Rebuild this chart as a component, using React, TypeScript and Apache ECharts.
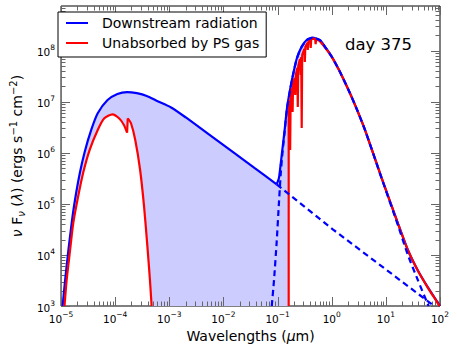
import React, { useEffect, useRef } from 'react';
import * as echarts from 'echarts';

const FONT = 'DejaVu Sans';

// wavelength (µm), νFν (ergs s^-1 cm^-2)
const downstreamUV: [number, number][] = [
  [1.07e-5, 1.0e3], [1.19e-5, 3.23e3], [1.37e-5, 1.25e4], [1.57e-5, 4.17e4], [1.81e-5, 1.19e5],
  [2.22e-5, 3.97e5], [2.74e-5, 1.05e6], [3.61e-5, 2.8e6], [4.76e-5, 5.94e6], [7.23e-5, 1.08e7],
  [1.1e-4, 1.42e7], [1.66e-4, 1.55e7], [2.52e-4, 1.47e7], [3.83e-4, 1.3e7], [5.8e-4, 1.05e7],
  [1.08e-3, 7.73e6], [2.02e-3, 4.92e6], [4.66e-3, 2.56e6], [1.62e-2, 9.7e5], [3.73e-2, 5.05e5],
  [0.0962, 2.42e5],
];
const downstreamOpt: [number, number][] = [
  [0.0962, 2.42e5], [0.1057, 3.17e5], [0.1135, 5.77e5], [0.1213, 1.05e6], [0.134, 2.59e6],
  [0.149, 7.45e6], [0.172, 1.84e7], [0.198, 3.88e7], [0.227, 7.1e7], [0.279, 1.2e8],
  [0.344, 1.62e8], [0.441, 1.8e8], [0.6, 1.62e8], [0.78, 1.13e8], [1.045, 7.1e7],
  [1.455, 3.66e7], [2.1, 1.6e7], [2.96, 6.86e6], [4.18, 2.7e6], [8.37, 3.2e5],
  [16.8, 4.1e4], [25.5, 1.25e4], [38.6, 5.07e3], [58.6, 2.39e3], [88.9, 1.21e3], [100, 1.0e3],
];
const unabsorbedUVa: [number, number][] = [
  [1.16e-5, 1.0e3], [1.27e-5, 3.23e3], [1.47e-5, 1.25e4], [1.68e-5, 4.17e4], [2.01e-5, 1.19e5],
  [2.55e-5, 3.97e5], [3.37e-5, 1.13e6], [4.76e-5, 2.8e6], [6.3e-5, 4.74e6], [8.91e-5, 5.68e6],
  [1.18e-4, 4.74e6], [1.45e-4, 3.51e6], [1.66e-4, 2.48e6],
];
const unabsorbedUVb: [number, number][] = [
  [1.66e-4, 2.48e6], [1.71e-4, 4.74e6],
];
const unabsorbedUVc: [number, number][] = [
  [1.71e-4, 4.74e6], [1.96e-4, 3.79e6], [2.35e-4, 1.78e6], [2.89e-4, 4.61e5], [3.42e-4, 8.81e4],
  [3.94e-4, 1.45e4], [4.39e-4, 3.23e3], [4.71e-4, 1.0e3],
];
const unabsorbedLines: [number, number][] = [
  [0.1604, 1.0e3], [0.1604, 6.3e6], [0.1672, 1.08e7], [0.1707, 1.14e6], [0.1743, 1.36e7],
  [0.1855, 1.86e7], [0.1895, 6.3e6], [0.1934, 2.23e7], [0.2059, 2.92e7], [0.212, 1.36e7],
  [0.2174, 3.34e7], [0.2312, 4.58e7], [0.2361, 7.9e6], [0.2411, 5.02e7], [0.2588, 6.88e7],
  [0.2676, 3.34e7], [0.2733, 7.53e7], [0.279, 3.06e6], [0.2849, 8.24e7], [0.3121, 1.08e8],
  [0.3187, 6.01e7], [0.3254, 1.18e8], [0.3537, 1.42e8], [0.3611, 1.03e8], [0.3687, 1.48e8],
  [0.4008, 1.62e8], [0.4092, 1.13e8], [0.4178, 1.66e8], [0.4541, 1.72e8], [0.4935, 1.7e8],
  [0.5039, 1.35e8], [0.5145, 1.67e8], [0.6004, 1.55e8],
];
const unabsorbedIR: [number, number][] = [
  [0.6004, 1.55e8], [0.78, 1.1e8], [1.045, 7.0e7], [1.455, 3.62e7], [2.1, 1.58e7], [2.96, 6.8e6],
  [4.18, 2.68e6], [8.37, 3.18e5], [16.8, 4.08e4], [25.5, 1.25e4], [38.6, 5.0e3], [58.6, 2.35e3],
  [88.9, 1.18e3], [98, 1.0e3],
];
const coolComponent: [number, number][] = [
  [0.078, 1.0e3], [0.0859, 3.2e3], [0.0962, 1.8e4], [0.1057, 1.0e5], [0.1135, 3.5e5],
  [0.1213, 8.4e5], [0.134, 2.4e6], [0.149, 7.2e6], [0.172, 1.82e7], [0.198, 3.85e7],
  [0.227, 7.05e7], [0.279, 1.19e8], [0.344, 1.61e8], [0.441, 1.79e8], [0.6, 1.61e8],
  [0.78, 1.12e8], [1.045, 7.05e7], [1.455, 3.64e7], [2.1, 1.59e7], [2.96, 6.82e6],
  [4.18, 2.68e6], [8.37, 3.15e5], [16.8, 3.75e4], [25.5, 1.0e4], [38.6, 3.3e3], [58.6, 1.13e3],
  [62, 1.0e3],
];
const hotTail: [number, number][] = [
  [0.0962, 2.42e5], [1.045, 3.18e4], [78, 1.0e3],
];

const xTickExponents = [-5, -4, -3, -2, -1, 0, 1, 2];
const yTickExponents = [3, 4, 5, 6, 7, 8];
const minorMultipliers = [2, 3, 4, 5, 6, 7, 8, 9];
const xMin = 1e-5;
const xMax = 100;
const yMin = 1e3;
const yMax = 7.5e8;

const BLUE = '#0000ff';
const RED = '#ff0000';

function powLabel(v: number): string {
  const e = Math.log10(v);
  const r = Math.round(e);
  if (Math.abs(e - r) > 1e-4) return '';
  const exp = r < 0 ? '\u2212' + -r : String(r);
  return `{b|10}{s|${exp}}`;
}

const labelRich = {
  b: { fontFamily: FONT, fontSize: 10.5, color: '#000', lineHeight: 14, verticalAlign: 'bottom' },
  s: { fontFamily: FONT, fontSize: 7.5, color: '#000', lineHeight: 6, verticalAlign: 'top' },
};

function buildTicks(): number[][] {
  const out: number[][] = [];
  xTickExponents.forEach((e, i) => {
    const base = Math.pow(10, e);
    out.push([base, yMin, 0]);
    if (i < xTickExponents.length - 1) {
      minorMultipliers.forEach((m) => out.push([m * base, yMin, 1]));
    }
  });
  yTickExponents.forEach((e) => {
    const base = Math.pow(10, e);
    out.push([xMin, base, 2]);
    minorMultipliers.forEach((m) => {
      if (m * base < yMax) out.push([xMin, m * base, 3]);
    });
  });
  return out;
}

export default function App() {
  const ref = useRef<HTMLDivElement>(null);

  useEffect(() => {
    if (!ref.current) return;
    const chart = echarts.init(ref.current, undefined, { renderer: 'svg' });

    const fillPoly = [
      ...downstreamUV,
      ...downstreamOpt,
      ...unabsorbedIR.slice().reverse(),
      ...unabsorbedLines.slice().reverse(),
      ...unabsorbedUVc.slice().reverse(),
      ...unabsorbedUVa.slice().reverse(),
    ];

    const lineBase = (name: string | undefined, data: [number, number][], color: string, smooth: number | boolean, dashed = false) => ({
      type: 'line',
      name,
      data,
      showSymbol: false,
      symbol: 'none',
      smooth,
      silent: true,
      lineStyle: { color, width: 2.2, type: dashed ? [6, 4] : 'solid' },
      itemStyle: { color },
      clip: true,
    });

    const option: any = {
      animation: false,
      backgroundColor: '#fff',
      grid: {
        left: 52,
        right: 17,
        top: 6,
        bottom: 42,
        show: true,
        borderColor: '#000',
        borderWidth: 1,
        backgroundColor: 'transparent',
        containLabel: false,
      },
      legend: {
        data: ['Downstream radiation', 'Unabsorbed by PS gas'],
        orient: 'vertical',
        left: 58,
        top: 12,
        padding: [3, 7, 6, 8],
        itemGap: 4,
        itemWidth: 22,
        itemHeight: 2,
        icon: 'rect',
        borderColor: '#000',
        borderWidth: 1,
        borderRadius: 0,
        backgroundColor: '#fff',
        selectedMode: false,
        textStyle: { fontFamily: FONT, fontSize: 14, color: '#000', lineHeight: 16, padding: [0, 0, 0, 9] },
      },
      xAxis: {
        type: 'log',
        logBase: 10,
        min: xMin,
        max: xMax,
        axisLine: { show: false },
        axisTick: { show: false },
        splitLine: { show: false },
        minorTick: { show: false },
        axisLabel: { formatter: powLabel, margin: 4, rich: labelRich, showMinLabel: true, showMaxLabel: true },
        name: '{n|Wavelengths (}{i|\u03bc}{n|m)}',
        nameLocation: 'middle',
        nameGap: 17,
        nameTextStyle: {
          rich: {
            n: { fontFamily: FONT, fontSize: 14, color: '#000', lineHeight: 16 },
            i: { fontFamily: FONT, fontSize: 14, color: '#000', lineHeight: 16, fontStyle: 'italic' },
          },
        },
      },
      yAxis: {
        type: 'log',
        logBase: 10,
        min: yMin,
        max: yMax,
        axisLine: { show: false },
        axisTick: { show: false },
        splitLine: { show: false },
        minorTick: { show: false },
        axisLabel: { formatter: powLabel, margin: 6, rich: labelRich, showMinLabel: true, showMaxLabel: true },
        name: '{i|\u03bd}{n| F}{sub|\u03bd}{n| (}{i|\u03bb}{n|) (ergs s}{sup|\u22121}{n| cm}{sup|\u22122}{n|)}',
        nameLocation: 'middle',
        nameRotate: 90,
        nameGap: 34,
        nameTextStyle: {
          rich: {
            n: { fontFamily: FONT, fontSize: 14, color: '#000', lineHeight: 18, verticalAlign: 'middle' },
            i: { fontFamily: FONT, fontSize: 14, color: '#000', lineHeight: 18, fontStyle: 'italic', verticalAlign: 'middle' },
            sub: { fontFamily: FONT, fontSize: 10, color: '#000', lineHeight: 8, fontStyle: 'italic', verticalAlign: 'bottom' },
            sup: { fontFamily: FONT, fontSize: 10, color: '#000', lineHeight: 8, verticalAlign: 'top' },
          },
        },
      },
      graphic: [
        {
          type: 'text',
          x: 345,
          y: 44,
          silent: true,
          style: { text: 'day 375', fontFamily: FONT, fontSize: 16.5, fill: '#000', verticalAlign: 'middle', align: 'left' },
        },
        {
          type: 'text',
          x: 207.5,
          y: 243,
          silent: true,
          style: {
            text: 'Absorbed by\npost-shock gas',
            fontFamily: FONT,
            fontSize: 14,
            lineHeight: 15,
            fill: '#000',
            align: 'center',
            verticalAlign: 'middle',
          },
        },
      ],
      series: [
        {
          type: 'custom',
          name: 'absorbed',
          silent: true,
          clip: true,
          data: [downstreamUV[0]],
          renderItem: (params: any, api: any) => {
            if (params.dataIndex !== 0) return null;
            const pts = fillPoly.map((d) => api.coord(d));
            return { type: 'polygon', shape: { points: pts }, style: { fill: '#ccccff', stroke: null } };
          },
        },
        lineBase('Downstream radiation', downstreamUV, BLUE, 0.25),
        lineBase('Downstream radiation', downstreamOpt, BLUE, 0.2),
        lineBase('Unabsorbed by PS gas', unabsorbedUVa, RED, 0.25),
        lineBase('Unabsorbed by PS gas', unabsorbedUVb, RED, false),
        lineBase('Unabsorbed by PS gas', unabsorbedUVc, RED, 0.25),
        lineBase('Unabsorbed by PS gas', unabsorbedLines, RED, false),
        lineBase('Unabsorbed by PS gas', unabsorbedIR, RED, 0.2),
        lineBase('cool', coolComponent, BLUE, 0.2, true),
        lineBase('hot', hotTail, BLUE, false, true),
        {
          type: 'custom',
          name: 'ticks',
          silent: true,
          clip: false,
          data: buildTicks(),
          encode: { x: 0, y: 1 },
          renderItem: (params: any, api: any) => {
            const kind = api.value(2);
            const p = api.coord([api.value(0), api.value(1)]);
            const cs = params.coordSys;
            const len = kind % 2 === 0 ? 9 : 4.5;
            const style = { stroke: '#666', lineWidth: 1 };
            if (kind < 2) {
              const x = Math.round(p[0]) + 0.5;
              return {
                type: 'group',
                children: [
                  { type: 'line', shape: { x1: x, y1: cs.y + cs.height, x2: x, y2: cs.y + cs.height - len }, style },
                  { type: 'line', shape: { x1: x, y1: cs.y, x2: x, y2: cs.y + len }, style },
                ],
              };
            }
            const y = Math.round(p[1]) + 0.5;
            return {
              type: 'group',
              children: [
                { type: 'line', shape: { x1: cs.x, y1: y, x2: cs.x + len, y2: y }, style },
                { type: 'line', shape: { x1: cs.x + cs.width, y1: y, x2: cs.x + cs.width - len, y2: y }, style },
              ],
            };
          },
        },
      ],
    };

    chart.setOption(option);
    return () => chart.dispose();
  }, []);

  return (
    <div
      ref={ref}
      style={{ position: 'fixed', left: 0, top: 0, width: 457, height: 348, background: '#fff' }}
    />
  );
}
